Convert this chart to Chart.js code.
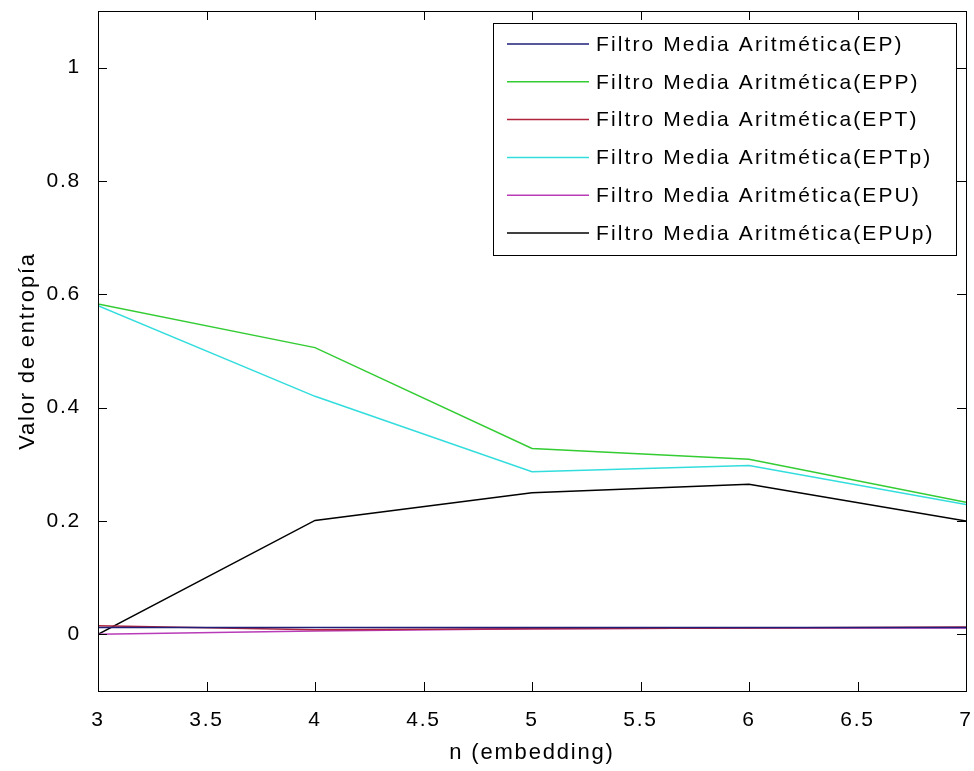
<!DOCTYPE html>
<html>
<head>
<meta charset="utf-8">
<script src="https://cdn.jsdelivr.net/npm/chart.js@4"></script>
<style>
  html, body { margin: 0; padding: 0; background: #fff; }
  #wrap { width: 974px; height: 771px; }
</style>
</head>
<body>
<div id="wrap"><canvas id="myChart" width="974" height="771"></canvas></div>
<script>
const embedding = [3, 4, 5, 6, 7];
const labels = [
  'Filtro Media Aritmética(EP)',
  'Filtro Media Aritmética(EPP)',
  'Filtro Media Aritmética(EPT)',
  'Filtro Media Aritmética(EPTp)',
  'Filtro Media Aritmética(EPU)',
  'Filtro Media Aritmética(EPUp)'
];
const ep   = [0.012, 0.012, 0.012, 0.012, 0.012];
const epp  = [0.583, 0.506, 0.328, 0.309, 0.233];
const ept  = [0.015, 0.008, 0.010, 0.011, 0.013];
const eptp = [0.580, 0.420, 0.287, 0.298, 0.229];
const epu  = [0.000, 0.006, 0.010, 0.011, 0.011];
const epup = [0.000, 0.201, 0.250, 0.265, 0.200];
const yTicks = [0, 0.2, 0.4, 0.6, 0.8, 1];
const colors = ['#1f1f7a', '#33cc33', '#b0243c', '#33dddd', '#b83cb8', '#000000'];

const series = [ep, epp, ept, eptp, epu, epup];
const font = 'Liberation Sans, Arial, sans-serif';
const spacing = '1.8px';

function pts(arr) {
  return arr.map((v, k) => ({x: embedding[k], y: v}));
}

// the old matlab font is spaced wide, so keep letter spacing on the context
const spacePlugin = {
  id: 'space',
  beforeUpdate(chart) { chart.ctx.letterSpacing = spacing; },
  beforeLayout(chart) { chart.ctx.letterSpacing = spacing; },
  beforeDraw(chart) { chart.ctx.letterSpacing = spacing; }
};

// matlab style box with inward ticks, plus legend inside the axes
const boxPlugin = {
  id: 'box',
  afterDraw(chart) {
    const c = chart.ctx;
    const a = chart.chartArea;
    const xs = chart.scales.x, ys = chart.scales.y;
    c.save();
    c.strokeStyle = '#000';
    c.lineWidth = 1;
    c.strokeRect(a.left + 0.5, a.top + 0.5, a.right - a.left, a.bottom - a.top);
    const tl = 9;
    c.beginPath();
    xs.ticks.forEach(t => {
      const px = Math.round(xs.getPixelForValue(t.value)) + 0.5;
      c.moveTo(px, a.bottom); c.lineTo(px, a.bottom - tl);
      c.moveTo(px, a.top); c.lineTo(px, a.top + tl);
    });
    ys.ticks.forEach(t => {
      const py = Math.round(ys.getPixelForValue(t.value)) + 0.5;
      c.moveTo(a.left, py); c.lineTo(a.left + tl, py);
      c.moveTo(a.right, py); c.lineTo(a.right - tl, py);
    });
    c.stroke();

    // legend
    const lx = 493, ly = 23, lw = 463, lh = 232;
    c.fillStyle = '#fff';
    c.fillRect(lx, ly, lw, lh);
    c.strokeRect(lx + 0.5, ly + 0.5, lw, lh);
    c.font = '21px ' + font;
    c.letterSpacing = '2.1px';
    c.textBaseline = 'middle';
    chart.data.datasets.forEach((d, k) => {
      const y = ly + 21 + k * 37.8;
      c.strokeStyle = d.borderColor;
      c.lineWidth = 1.5;
      c.beginPath();
      c.moveTo(lx + 14, y); c.lineTo(lx + 96, y);
      c.stroke();
      c.fillStyle = '#000';
      c.fillText(d.label, lx + 103, y + 1);
    });
    c.restore();
  }
};

const ctx = document.getElementById('myChart');
ctx.getContext('2d').letterSpacing = spacing;

const cfg = {
  type: 'line',
  data: {
    datasets: series.map((s, k) => ({
      label: labels[k],
      data: pts(s),
      borderColor: colors[k],
      backgroundColor: colors[k],
      borderWidth: 1.5,
      pointRadius: 0,
      tension: 0,
      fill: false
    }))
  },
  options: {
    responsive: false,
    animation: false,
    layout: { padding: { left: 0, right: 8, top: 11, bottom: 0 } },
    plugins: {
      legend: { display: false },
      tooltip: { enabled: false }
    },
    scales: {
      x: {
        type: 'linear',
        min: 3,
        max: 7,
        grid: { display: false },
        border: { display: false },
        ticks: {
          stepSize: 0.5,
          color: '#000',
          padding: 9,
          font: { family: font, size: 21 },
          callback: v => String(v)
        },
        title: {
          display: true,
          text: 'n (embedding)',
          color: '#000',
          font: { family: font, size: 22 },
          padding: { top: 4, bottom: 5 }
        },
        afterFit: s => {
          s.height = 80;
          s.paddingLeft = 0;
          s.paddingRight = 0;
        }
      },
      y: {
        type: 'linear',
        min: -0.1,
        max: 1.1,
        grid: { display: false },
        border: { display: false },
        afterBuildTicks: s => { s.ticks = yTicks.map(v => ({value: v})); },
        ticks: {
          color: '#000',
          padding: 9,
          font: { family: font, size: 21 },
          callback: v => String(+v.toFixed(1))
        },
        title: {
          display: true,
          text: 'Valor de entropía',
          color: '#000',
          font: { family: font, size: 22 },
          padding: { top: 15, bottom: 0 }
        },
        afterFit: s => {
          s.width = 98;
          s.paddingTop = 0;
          s.paddingBottom = 0;
        }
      }
    }
  },
  plugins: [spacePlugin, boxPlugin]
};

let cht = new Chart(ctx, cfg);
</script>
</body>
</html>
